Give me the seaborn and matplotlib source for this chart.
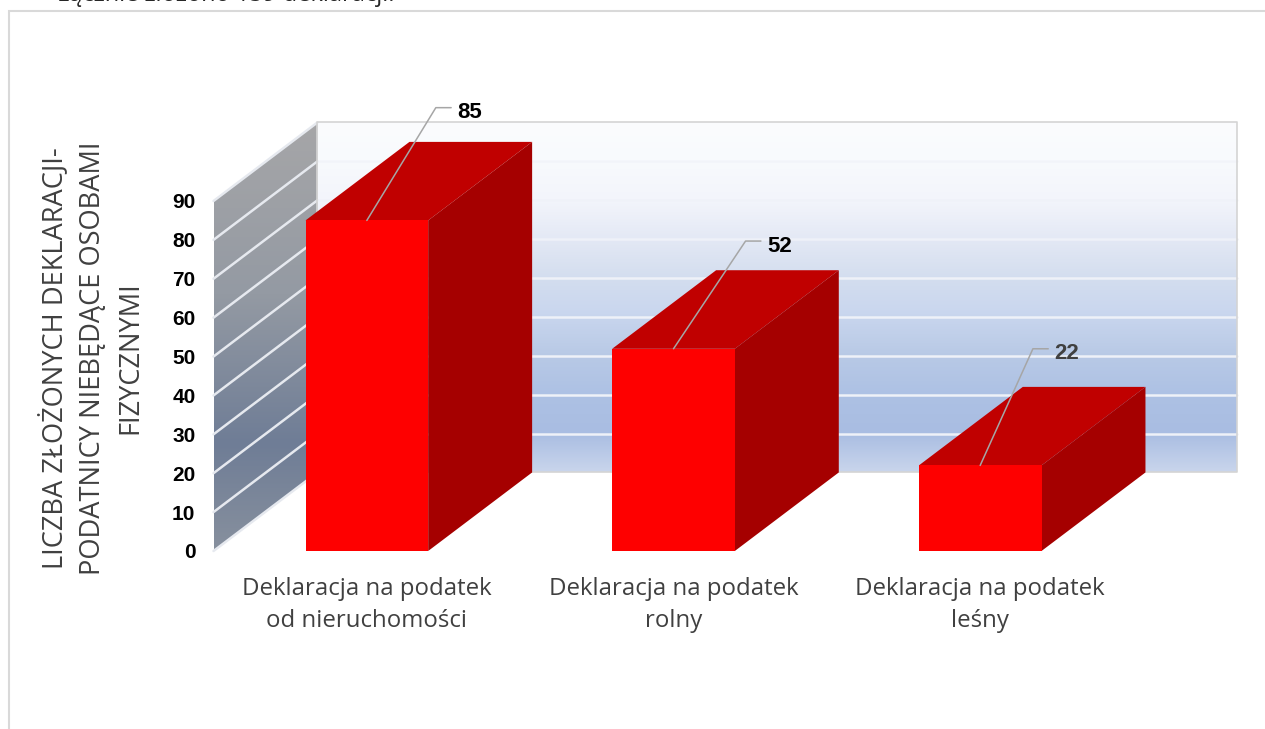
import matplotlib
matplotlib.use("Agg")
import matplotlib.pyplot as plt
from matplotlib.colors import LinearSegmentedColormap
from matplotlib.patches import Polygon, Rectangle
import numpy as np
import seaborn as sns

categories = ["Deklaracja na podatek\nod nieruchomości", "Deklaracja na podatek\nrolny", "Deklaracja na podatek\nleśny"]
values = [85, 52, 22]
y_ticks = [0, 10, 20, 30, 40, 50, 60, 70, 80, 90]
y_title = "LICZBA ZŁOŻONYCH DEKLARACJI-\nPODATNICY NIEBĘDĄCE OSOBAMI\nFIZYCZNYMI"
top_text = "Łącznie złożono 159 deklaracji."

W, H = 1265, 729
# 3d look: how far the back plane is shifted from the front one, in data units
DX = 0.339
DY = 20.2
Y_MAX = 90
# leader line of the value labels, (dx, dy) to the elbow
leaders = [(0.225, 29), (0.235, 27.7), (0.172, 30)]
label_colors = ["black", "black", "#404040"]

sns.set_theme(style="white")
fig = plt.figure(figsize=(W / 100, H / 100), dpi=100)
ax = fig.add_axes([213.5 / W, (H - 551) / H, 920 / W, 350 / H])

# outer frame, only left and top are inside the picture
fig.add_artist(Rectangle((9 / W, -0.1), 2, 1.1 - 11.5 / H, transform=fig.transFigure,
                         fill=False, ec="#d9d9d9", lw=1.5))
fig.text(57 / W, (H - 1) / H, top_text, family="Open Sans", fontsize=17, color="#262626", va="baseline")

# back wall
back_cmap = LinearSegmentedColormap.from_list("back", [
    (0, "#fbfcfe"), (0.11, "#f8fafd"), (0.22, "#f3f5fb"), (0.33, "#e4e9f5"), (0.44, "#d4deef"),
    (0.55, "#c9d6ee"), (0.66, "#b9cae6"), (0.78, "#adc1e4"), (0.89, "#a9bde2"), (1, "#c9d5ec")])
grad = np.linspace(0, 1, 256).reshape(-1, 1)
ax.imshow(grad, cmap=back_cmap, aspect="auto", zorder=0, clip_on=False,
          extent=(-0.5 + DX, 2.5 + DX, DY, Y_MAX + DY))

# side wall
side_cmap = LinearSegmentedColormap.from_list("side", [
    (0, "#a6a6a8"), (0.4, "#949aa3"), (0.75, "#6f7d96"), (1, "#87909e")])
side_im = ax.imshow(grad, cmap=side_cmap, aspect="auto", zorder=0,
                    extent=(-0.5, -0.5 + DX, 0, Y_MAX + DY))
side_poly = Polygon([(-0.5, 0), (-0.5 + DX, DY), (-0.5 + DX, Y_MAX + DY), (-0.5, Y_MAX)],
                    transform=ax.transData)
side_im.set_clip_path(side_poly)
side_im.set_clip_box(fig.bbox)

# grid lines of both walls
for t in y_ticks:
    ax.plot([-0.5, -0.5 + DX], [t, t + DY], color="#e6e9ef", lw=1.8, zorder=1, clip_on=False)
    if 0 < t < Y_MAX:
        alpha = 0.5 if t > 60 else 1
        ax.plot([-0.5 + DX, 2.5 + DX], [t + DY, t + DY], color="#eef1f8", lw=1.8, alpha=alpha, zorder=1, clip_on=False)
ax.plot([-0.5 + DX, 2.5 + DX, 2.5 + DX, -0.5 + DX, -0.5 + DX],
        [DY, DY, Y_MAX + DY, Y_MAX + DY, DY], color="#d4d4d4", lw=1.2, zorder=1, clip_on=False)

# front of the bars
sns.barplot(x=categories, y=values, color="#fe0000", saturation=1, width=0.4, ax=ax, zorder=5, linewidth=0)

# top and side of the bars
for i, v in enumerate(values):
    left, right = i - 0.2, i + 0.2
    ax.fill([left, right, right + DX, left + DX], [v, v, v + DY, v + DY],
            color="#c00000", lw=0, zorder=3, clip_on=False)
    ax.fill([right, right + DX, right + DX, right], [0, DY, v + DY, v],
            color="#a50000", lw=0, zorder=3, clip_on=False)
    dx, dy = leaders[i]
    ax.plot([i, i + dx, i + dx + 0.05], [v, v + dy, v + dy], color="#a6a6a6", lw=1.1, zorder=6, clip_on=False)
    ax.text(i + dx + 0.07, v + dy - 1.3, str(v), family="Liberation Sans", weight="bold", fontsize=16,
            color=label_colors[i], ha="left", va="center", zorder=7, clip_on=False)

ax.set_xlim(-0.5, 2.5)
ax.set_ylim(0, Y_MAX)
ax.set_yticks(y_ticks)
ax.tick_params(axis="y", length=0, pad=13)
ax.tick_params(axis="x", length=0, pad=19)
for lab in ax.get_yticklabels():
    lab.set(family="Liberation Sans", weight="bold", fontsize=15, color="black")
for lab in ax.get_xticklabels():
    lab.set(family="Open Sans", fontsize=17.3, color="#404040", linespacing=1.42)
ax.set_ylabel(y_title, family="Open Sans", fontsize=19.6, color="#404040", linespacing=1.47)
ax.yaxis.label.set_va("center")
ax.yaxis.set_label_coords((92 - 213.5) / 920, (551 - 358) / 350)
ax.set_facecolor("none")
sns.despine(ax=ax, left=True, bottom=True)

fig.savefig("out.png", dpi=100)
plt.close(fig)
